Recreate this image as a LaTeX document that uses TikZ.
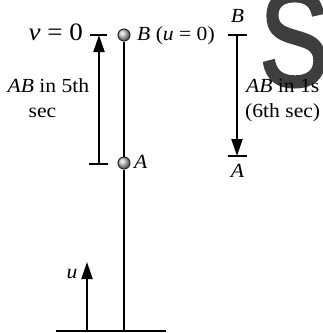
\documentclass[tikz,border=0pt]{standalone}
\usepackage{fontspec}
\setmainfont{Liberation Serif}[FakeStretch=1.08]
\setsansfont{Liberation Sans}
\newfontfamily\bigSfont{Liberation Sans}[FakeBold=2.5]
\usetikzlibrary{arrows.meta}
\definecolor{sgray}{RGB}{62,62,62}
\tikzset{
  lbl/.style={inner sep=0pt, font=\fontsize{20}{25}\selectfont},
  biglbl/.style={inner sep=0pt, font=\fontsize{25}{30}\selectfont},
  ball/.style={circle, draw=black!85, line width=1pt, ball color=gray!45, minimum size=12pt, inner sep=0pt},
  rod/.style={line width=1.4pt},
  tick/.style={line width=1.1pt},
  arr/.style={line width=2.2pt, -{Triangle[length=17pt,width=11pt]}},
}
\begin{document}
\begin{tikzpicture}[x=1pt,y=-1pt]
\useasboundingbox (0,0) rectangle (323,333);
% big watermark letter
\node[inner sep=0pt, anchor=base west, text=sgray, xscale=0.77, transform shape, font=\bigSfont\fontsize{135}{135}\selectfont] (S) at (259.5,85.5) {S};
% ground
\coordinate (gL) at (56,331);
\coordinate (gR) at (166,331);
\coordinate (G) at (124,331);
\draw[tick] (gL) -- (gR);
% balls and rod
\node[ball] (B) at (124,35) {};
\node[ball] (A) at (124,163) {};
\draw[rod] (B) -- (A);
\draw[rod] (A) -- (G);
% left ticks and arrow
\coordinate (lt1) at (90,35);  \coordinate (lt2) at (107,35);
\coordinate (lb1) at (89,164); \coordinate (lb2) at (108,164);
\draw[tick] (lt1) -- (lt2);
\draw[tick] (lb1) -- (lb2);
\coordinate (la0) at (99,164); \coordinate (la1) at (99,35);
\draw[arr] (la0) -- (la1);
% right ticks and arrow
\coordinate (rt1) at (228,35);  \coordinate (rt2) at (247,35);
\coordinate (rb1) at (228,156); \coordinate (rb2) at (247,156);
\draw[tick] (rt1) -- (rt2);
\draw[tick] (rb1) -- (rb2);
\coordinate (ra0) at (237,35); \coordinate (ra1) at (237,156);
\draw[arr] (ra0) -- (ra1);
% u arrow
\coordinate (ua0) at (87,331); \coordinate (ua1) at (87,262);
\draw[arr] (ua0) -- (ua1);
% labels
\node[biglbl, anchor=base east] (v0) at (83,40.5) {\textit{v} = 0};
\node[lbl, anchor=base west] (Bu) at (137,40.5) {\textit{B} (\textit{u} = 0)};
\node[lbl, anchor=base] (l5a) at (48.5,92) {\textit{AB} in 5th};
\node[lbl, anchor=base] (l5b) at (42.5,117) {sec};
\node[lbl, anchor=base west] (Al) at (134,168) {\textit{A}};
\node[lbl, anchor=base] (Bt) at (237.5,22) {\textit{B}};
\node[lbl, anchor=base] (Ab) at (237.5,177) {\textit{A}};
\node[lbl, anchor=base west] (l1a) at (246,92) {\textit{AB} in 1s};
\node[lbl, anchor=base west] (l1b) at (245,117) {(6th sec)};
\node[lbl, anchor=base] (ul) at (72,278) {\textit{u}};
\end{tikzpicture}
\end{document}
